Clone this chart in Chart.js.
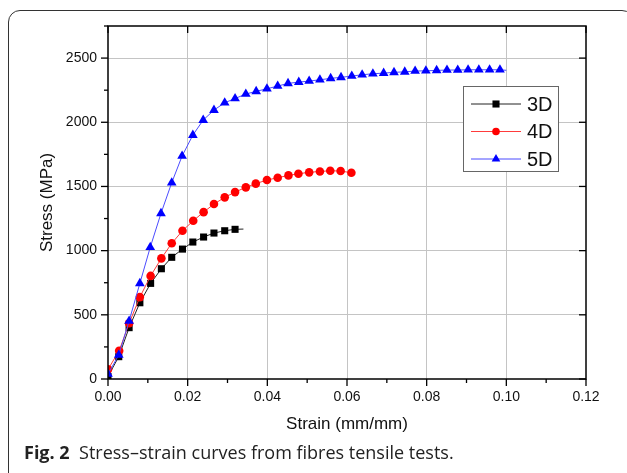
<!DOCTYPE html>
<html>
<head>
<meta charset="utf-8">
<script src="https://cdn.jsdelivr.net/npm/chart.js@4/dist/chart.umd.min.js"></script>
<style>
  body { margin: 0; background: #fff; }
  #wrap { position: relative; width: 627px; height: 473px; overflow: hidden; }
  #frame { position: absolute; left: 8px; top: 10px; width: 626px; height: 480px;
           border: 1.5px solid #333; border-radius: 12px; box-sizing: border-box; }
  #chart { position: absolute; left: 0; top: 0; }
  #caption { position: absolute; left: 24px; top: 440px; font-family: "Open Sans", sans-serif;
             font-size: 18px; color: #222; white-space: nowrap; letter-spacing: 0; }
  #caption b { font-weight: 700; }
</style>
</head>
<body>
<div id="wrap">
  <div id="frame"></div>
  <canvas id="chart" width="627" height="473"></canvas>
  <div id="caption"><b>Fig. 2</b>&nbsp; Stress–strain curves from fibres tensile tests.</div>
</div>
<script>
// values (strain in mm/mm, stress in MPa)
const strain3D = [0, 0.0027, 0.0053, 0.0080, 0.0107, 0.0134, 0.0160, 0.0187, 0.0213, 0.0240, 0.0266, 0.0293, 0.0319, 0.0340];
const stress3D = [20, 174, 400, 594, 745, 859, 948, 1012, 1067, 1106, 1137, 1155, 1166, 1168];

const strain4D = [0, 0.0028, 0.0053, 0.0080, 0.0107, 0.0134, 0.0160, 0.0187, 0.0214, 0.0240, 0.0266, 0.0293,
                  0.0319, 0.0346, 0.0371, 0.0399, 0.0426, 0.0453, 0.0478, 0.0505, 0.0532, 0.0558, 0.0584, 0.0611];
const stress4D = [75, 220, 434, 638, 803, 940, 1057, 1155, 1233, 1300, 1363, 1415,
                  1456, 1493, 1522, 1550, 1568, 1586, 1599, 1610, 1617, 1622, 1620, 1607];

const strain5D = [0, 0.0027, 0.0053, 0.0080, 0.0106, 0.0133, 0.0160, 0.0186, 0.0213, 0.0239, 0.0266, 0.0293, 0.0319,
                  0.0346, 0.0372, 0.0399, 0.0426, 0.0452, 0.0479, 0.0505, 0.0532, 0.0559, 0.0585, 0.0612, 0.0638,
                  0.0665, 0.0692, 0.0718, 0.0745, 0.0771, 0.0798, 0.0825, 0.0851, 0.0878, 0.0904, 0.0931, 0.0958,
                  0.0984, 0.1000];
const stress5D = [39, 187, 452, 745, 1026, 1290, 1529, 1737, 1900, 2017, 2095, 2152, 2185,
                  2220, 2241, 2261, 2282, 2303, 2313, 2321, 2331, 2342, 2350, 2360, 2370,
                  2378, 2383, 2389, 2393, 2399, 2401, 2404, 2407, 2407, 2409, 2409, 2409,
                  2409, 2405];

const seriesNames = ['3D', '4D', '5D'];
const xTickLabels = ['0.00', '0.02', '0.04', '0.06', '0.08', '0.10', '0.12'];
const yTickLabels = ['0', '500', '1000', '1500', '2000', '2500'];

function pts(xs, ys) {
  return xs.map((v, i) => ({ x: v, y: ys[i] }));
}

// hide marker on the last point where the line runs past the last symbol
function radiusSkipLast(r, n) {
  return ctx => (ctx.dataIndex === n - 1 ? 0 : r);
}

const isMajorX = v => Math.round(v * 100) % 2 === 0;
const isMajorY = v => Math.round(v) % 500 === 0;

function drawMarker(ctx, style, x, y, r, color) {
  ctx.fillStyle = color;
  ctx.beginPath();
  if (style === 'rect') {
    const s = r / Math.SQRT2;
    ctx.rect(x - s, y - s, 2 * s, 2 * s);
  } else if (style === 'circle') {
    ctx.arc(x, y, r, 0, Math.PI * 2);
  } else {
    ctx.moveTo(x, y - r);
    ctx.lineTo(x + r * 0.866, y + r * 0.5);
    ctx.lineTo(x - r * 0.866, y + r * 0.5);
    ctx.closePath();
  }
  ctx.fill();
}

const framePlugin = {
  id: 'frame',
  afterDraw(chart) {
    const { ctx, chartArea: a, scales } = chart;
    const x = scales.x, y = scales.y;
    ctx.save();
    ctx.strokeStyle = '#000';
    ctx.lineWidth = 1.3;
    const seg = (x1, y1, x2, y2) => { ctx.beginPath(); ctx.moveTo(x1, y1); ctx.lineTo(x2, y2); ctx.stroke(); };

    x.ticks.forEach(t => {
      const px = x.getPixelForValue(t.value);
      const major = isMajorX(t.value);
      seg(px, a.bottom, px, a.bottom + (major ? 7 : 4));
      if (major) seg(px, a.top, px, a.top + 7);
    });
    y.ticks.forEach(t => {
      const py = y.getPixelForValue(t.value);
      const major = isMajorY(t.value);
      seg(a.left, py, a.left - (major ? 7 : 4), py);
      if (major) seg(a.right, py, a.right - 7, py);
    });

    ctx.lineWidth = 1.5;
    ctx.strokeRect(a.left, a.top, a.right - a.left, a.bottom - a.top);

    // legend
    const lx = 463, ly = 86, lw = 95, lh = 85;
    ctx.fillStyle = '#fff';
    ctx.fillRect(lx, ly, lw, lh);
    ctx.strokeStyle = '#666';
    ctx.lineWidth = 1;
    ctx.strokeRect(lx + 0.5, ly + 0.5, lw, lh);
    ctx.font = '20px "Liberation Sans", Arial, sans-serif';
    ctx.textBaseline = 'middle';
    chart.data.datasets.forEach((ds, i) => {
      const ry = 104 + i * 27.5;
      ctx.strokeStyle = ds.borderColor;
      ctx.lineWidth = 1;
      seg(471, ry, 521, ry);
      drawMarker(ctx, ds.pointStyle, 496, ry, ds.legendRadius, ds.pointBackgroundColor);
      ctx.fillStyle = '#111';
      ctx.fillText(ds.label, 527, ry + 1);
    });
    ctx.restore();
  }
};

const tickFont = { family: '"Liberation Sans", Arial, sans-serif', size: 14 };
const titleFont = { family: '"Liberation Sans", Arial, sans-serif', size: 17 };

new Chart(document.getElementById('chart'), {
  type: 'scatter',
  data: {
    datasets: [
      {
        label: seriesNames[0], data: pts(strain3D, stress3D), showLine: true,
        borderColor: '#222', borderWidth: 1, pointStyle: 'rect',
        pointRadius: radiusSkipLast(5, strain3D.length), pointBackgroundColor: '#000',
        pointBorderWidth: 0, legendRadius: 5, order: 2
      },
      {
        label: seriesNames[1], data: pts(strain4D, stress4D), showLine: true,
        borderColor: '#ff3b3b', borderWidth: 1, pointStyle: 'circle',
        pointRadius: 4.3, pointBackgroundColor: '#ff0000',
        pointBorderWidth: 0, legendRadius: 3.8, order: 1
      },
      {
        label: seriesNames[2], data: pts(strain5D, stress5D), showLine: true,
        borderColor: '#4b4bff', borderWidth: 1, pointStyle: 'triangle',
        pointRadius: radiusSkipLast(5.6, strain5D.length), pointBackgroundColor: '#0000ff',
        pointBorderWidth: 0, legendRadius: 5, order: 0
      }
    ]
  },
  options: {
    responsive: false,
    animation: false,
    layout: { padding: { left: 0, right: 41, top: 26, bottom: 34 } },
    plugins: { legend: { display: false }, tooltip: { enabled: false } },
    elements: { line: { tension: 0 } },
    scales: {
      x: {
        type: 'linear', min: 0, max: 0.12,
        afterFit: s => { s.height = 60; },
        ticks: {
          stepSize: 0.01, padding: 10, color: '#111', font: tickFont, maxRotation: 0, autoSkip: false,
          callback: v => (isMajorX(v) ? xTickLabels[Math.round(v * 50)] : '')
        },
        grid: {
          drawTicks: false,
          color: c => {
            const k = Math.round(c.tick.value * 100);
            return (k % 2 === 0 && k > 0 && k < 12) ? '#c4c4c4' : 'rgba(0,0,0,0)';
          }
        },
        border: { display: false },
        title: { display: true, text: 'Strain (mm/mm)', color: '#111', font: titleFont, padding: { top: 0, bottom: 4 } }
      },
      y: {
        type: 'linear', min: 0, max: 2750,
        afterFit: s => { s.width = 108; },
        ticks: {
          stepSize: 250, padding: 11, color: '#111', font: tickFont, autoSkip: false,
          callback: v => (isMajorY(v) ? yTickLabels[Math.round(v / 500)] : '')
        },
        grid: {
          drawTicks: false,
          color: c => {
            const v = Math.round(c.tick.value);
            return (v % 500 === 0 && v > 0) ? '#c4c4c4' : 'rgba(0,0,0,0)';
          }
        },
        border: { display: false },
        title: { display: true, text: 'Stress (MPa)', color: '#111', font: titleFont, padding: { top: 37, bottom: 0 } }
      }
    }
  },
  plugins: [framePlugin]
});
</script>
</body>
</html>
